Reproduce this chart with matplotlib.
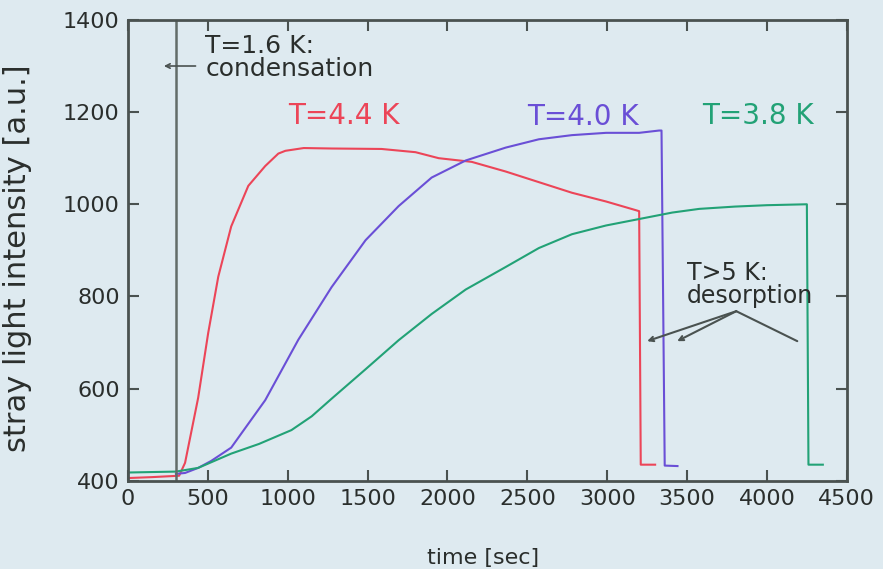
import matplotlib.pyplot as plt

# measured traces: time [s] and stray light intensity [a.u.]
red_t = [0, 150, 320, 357, 439, 502, 565, 646, 753, 859, 941, 985, 1100, 1274,
         1587, 1800, 1945, 2152, 2365, 2572, 2779, 2993, 3181, 3200, 3210, 3300]
red_v = [406, 408, 411, 439, 580, 721, 843, 952, 1040, 1083, 1110, 1116, 1122, 1121,
         1120, 1113, 1100, 1092, 1071, 1048, 1025, 1006, 987, 985, 435, 435]

blue_t = [300, 357, 439, 520, 646, 859, 1066, 1274, 1487, 1694, 1901, 2114, 2365,
          2572, 2779, 2993, 3200, 3325, 3340, 3360, 3440]
blue_v = [415, 417, 428, 443, 472, 575, 706, 820, 922, 996, 1058, 1095, 1123,
          1141, 1150, 1155, 1155, 1160, 1160, 433, 432]

green_t = [0, 300, 439, 646, 820, 1023, 1150, 1274, 1487, 1694, 1901, 2114, 2365,
           2572, 2779, 2993, 3200, 3407, 3576, 3800, 4000, 4250, 4260, 4350]
green_v = [418, 420, 428, 459, 480, 510, 540, 578, 642, 705, 762, 815, 864,
           905, 935, 954, 968, 982, 990, 995, 998, 1000, 435, 435]

condensation_t = 300
x_ticks = [0, 500, 1000, 1500, 2000, 2500, 3000, 3500, 4000, 4500]
y_ticks = [400, 600, 800, 1000, 1200, 1400]

bg = '#deeaf0'
ink = '#4a5250'
dark = '#2a2e2c'
red = '#ec4558'
blue = '#6a4fd6'
green = '#22a276'

fig = plt.figure(figsize=(8.83, 5.69), dpi=100, facecolor=bg)
ax = fig.add_axes([0.145, 0.155, 0.814, 0.81], facecolor=bg)

ax.plot(red_t, red_v, color=red, lw=1.5)
ax.plot(blue_t, blue_v, color=blue, lw=1.5)
ax.plot(green_t, green_v, color=green, lw=1.5)
ax.axvline(condensation_t, color='#626c69', lw=1.8)

ax.set_xlim(0, 4500)
ax.set_ylim(400, 1400)
ax.set_xticks(x_ticks)
ax.set_yticks(y_ticks)
ax.tick_params(direction='in', length=8, width=1.5, color=ink, labelsize=16,
               labelcolor=dark, pad=6, top=True, right=True)
for s in ax.spines.values():
    s.set_color(ink)
    s.set_linewidth(2)

ax.set_xlabel('time [sec]', fontsize=16, color=dark)
ax.set_ylabel('stray light intensity [a.u.]', fontsize=22, color=dark)
ax.xaxis.set_label_coords(0.494, -0.145)
ax.yaxis.set_label_coords(-0.134, 0.484)

# condensation marker
txt = dict(fontsize=18, color=dark, va='baseline', ha='left')
ax.text(483, 1328, 'T=1.6 K:', **txt)
ax.text(483, 1278, 'condensation', **txt)
ax.annotate('', xy=(207, 1300), xytext=(440, 1300),
            arrowprops=dict(arrowstyle='->', color=ink, lw=1.2, mutation_scale=8))

# curve labels
ax.text(1004, 1175, 'T=4.4 K', fontsize=20, color=red, va='baseline')
ax.text(2497, 1172, 'T=4.0 K', fontsize=20, color=blue, va='baseline')
ax.text(3595, 1175, 'T=3.8 K', fontsize=20, color=green, va='baseline')

# desorption marker
txt['fontsize'] = 17
ax.text(3500, 835, 'T>5 K:', **txt)
ax.text(3500, 786, 'desorption', **txt)
apex = (3808, 768)
for end, head in [((3250, 703), '->'), ((3438, 703), '->'), ((4190, 703), '-')]:
    ax.annotate('', xy=end, xytext=apex,
                arrowprops=dict(arrowstyle=head, color=ink, lw=1.5, mutation_scale=8,
                                shrinkA=0, shrinkB=0))

fig.savefig('out.png', dpi=100, facecolor=bg)
